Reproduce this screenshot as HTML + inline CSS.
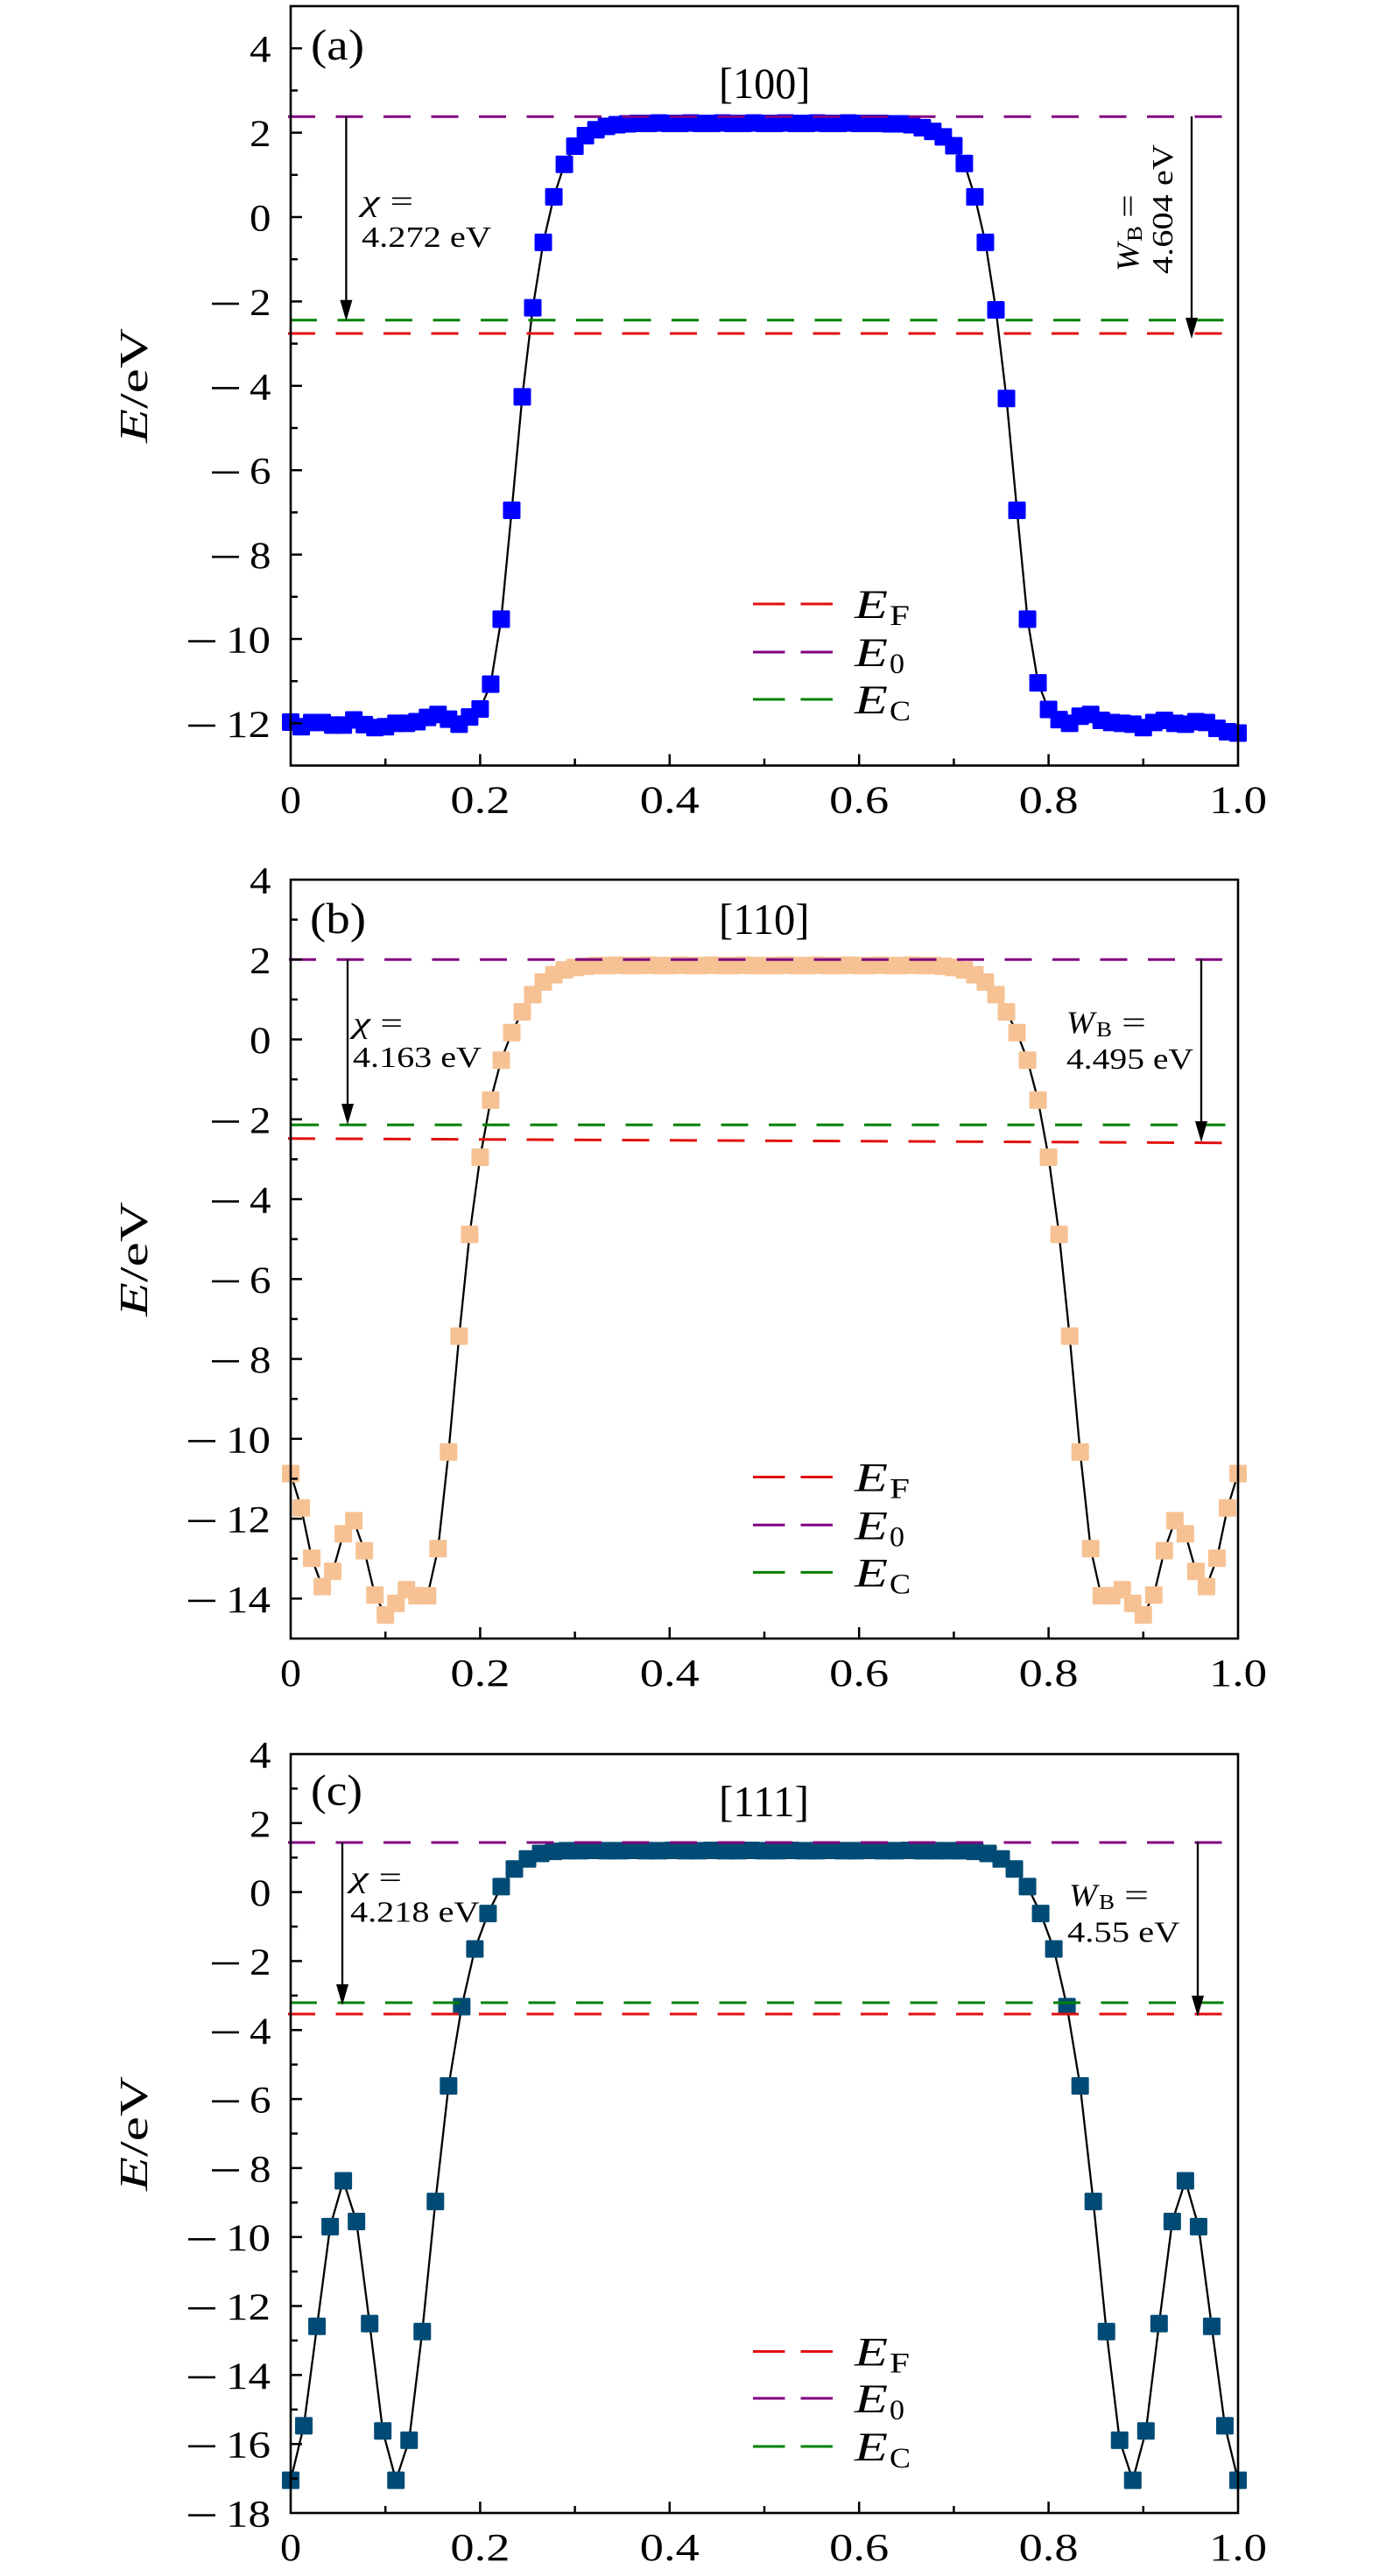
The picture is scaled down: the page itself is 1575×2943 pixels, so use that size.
<!DOCTYPE html>
<html><head><meta charset="utf-8"><style>
html,body{margin:0;padding:0;background:#fff;}
svg{display:block;}
text{font-family:"Liberation Serif",serif;fill:#000;}
</style></head><body>
<svg width="1575" height="2943" viewBox="0 0 1575 2943" xmlns="http://www.w3.org/2000/svg">
<defs>
<marker id="ma" markerUnits="userSpaceOnUse" markerWidth="4" markerHeight="4" refX="0" refY="0" overflow="visible"><rect x="-0.8318" y="-0.2075" width="1.6636" height="0.4149" rx="0.125" ry="0.031" fill="#0000ff"/></marker>
<marker id="mb" markerUnits="userSpaceOnUse" markerWidth="4" markerHeight="4" refX="0" refY="0" overflow="visible"><rect x="-0.8318" y="-0.21916" width="1.6636" height="0.43831" rx="0.125" ry="0.033" fill="#f6c294"/></marker>
<marker id="mc" markerUnits="userSpaceOnUse" markerWidth="4" markerHeight="4" refX="0" refY="0" overflow="visible"><rect x="-0.66544" y="-0.25375" width="1.33087" height="0.50749" rx="0.1" ry="0.038" fill="#004b75"/></marker>
</defs>

<!-- ================= PANEL A ================= -->
<g>
<g transform="translate(332,248) scale(12.02222,-48.2)">
<polyline fill="none" stroke="#000" stroke-width="2.3" vector-effect="non-scaling-stroke" points="0,-11.97 1,-12.08 2,-11.98 3,-11.98 4,-12.04 5,-12.04 6,-11.92 7,-12.03 8,-12.1 9,-12.08 10,-12 11,-12 12,-11.96 13,-11.86 14,-11.79 15,-11.9 16,-12.02 17,-11.85 18,-11.66 19,-11.07 20,-9.53 21,-6.95 22,-4.26 23,-2.15 24,-0.6 25,0.48 26,1.25 27,1.68 28,1.93 29,2.07 30,2.15 31,2.19 32,2.21 33,2.22 34,2.22 35,2.23 36,2.22 37,2.22 38,2.23 39,2.22 40,2.22 41,2.23 42,2.22 43,2.22 44,2.23 45,2.22 46,2.22 47,2.23 48,2.22 49,2.22 50,2.23 51,2.22 52,2.22 53,2.23 54,2.22 55,2.22 56,2.22 57,2.21 58,2.21 59,2.19 60,2.12 61,2.03 62,1.9 63,1.69 64,1.27 65,0.48 66,-0.6 67,-2.2 68,-4.3 69,-6.95 70,-9.53 71,-11.04 72,-11.67 73,-11.91 74,-12 75,-11.83 76,-11.79 77,-11.93 78,-11.98 79,-12 80,-12.02 81,-12.1 82,-11.98 83,-11.93 84,-12 85,-12.02 86,-11.96 87,-11.98 88,-12.12 89,-12.2 90,-12.23"/>
<polyline fill="none" stroke="none" marker-start="url(#ma)" marker-mid="url(#ma)" marker-end="url(#ma)" points="0,-11.97 1,-12.08 2,-11.98 3,-11.98 4,-12.04 5,-12.04 6,-11.92 7,-12.03 8,-12.1 9,-12.08 10,-12 11,-12 12,-11.96 13,-11.86 14,-11.79 15,-11.9 16,-12.02 17,-11.85 18,-11.66 19,-11.07 20,-9.53 21,-6.95 22,-4.26 23,-2.15 24,-0.6 25,0.48 26,1.25 27,1.68 28,1.93 29,2.07 30,2.15 31,2.19 32,2.21 33,2.22 34,2.22 35,2.23 36,2.22 37,2.22 38,2.23 39,2.22 40,2.22 41,2.23 42,2.22 43,2.22 44,2.23 45,2.22 46,2.22 47,2.23 48,2.22 49,2.22 50,2.23 51,2.22 52,2.22 53,2.23 54,2.22 55,2.22 56,2.22 57,2.21 58,2.21 59,2.19 60,2.12 61,2.03 62,1.9 63,1.69 64,1.27 65,0.48 66,-0.6 67,-2.2 68,-4.3 69,-6.95 70,-9.53 71,-11.04 72,-11.67 73,-11.91 74,-12 75,-11.83 76,-11.79 77,-11.93 78,-11.98 79,-12 80,-12.02 81,-12.1 82,-11.98 83,-11.93 84,-12 85,-12.02 86,-11.96 87,-11.98 88,-12.12 89,-12.2 90,-12.23"/>
</g>
<!-- dashed level lines -->
<g stroke-width="3" stroke-dasharray="31 23.5" fill="none">
<line x1="329" y1="133.3" x2="1396" y2="133.3" stroke="#800080"/>
<line x1="331" y1="365.7" x2="1400" y2="365.7" stroke="#008000"/>
<line x1="329" y1="381" x2="1396" y2="381" stroke="#e01010"/>
</g>
<!-- frame -->
<rect x="332" y="7" width="1082" height="867.6" fill="none" stroke="#000" stroke-width="2.6"/>
<!-- y ticks -->
<g stroke="#000" stroke-width="2.5">
<line x1="332" y1="55.2" x2="345" y2="55.2"/><line x1="332" y1="151.6" x2="345" y2="151.6"/><line x1="332" y1="248" x2="345" y2="248"/><line x1="332" y1="344.4" x2="345" y2="344.4"/><line x1="332" y1="440.8" x2="345" y2="440.8"/><line x1="332" y1="537.2" x2="345" y2="537.2"/><line x1="332" y1="633.6" x2="345" y2="633.6"/><line x1="332" y1="730" x2="345" y2="730"/><line x1="332" y1="826.4" x2="345" y2="826.4"/>
<line x1="332" y1="103.4" x2="340" y2="103.4"/><line x1="332" y1="199.8" x2="340" y2="199.8"/><line x1="332" y1="296.2" x2="340" y2="296.2"/><line x1="332" y1="392.6" x2="340" y2="392.6"/><line x1="332" y1="489" x2="340" y2="489"/><line x1="332" y1="585.4" x2="340" y2="585.4"/><line x1="332" y1="681.8" x2="340" y2="681.8"/><line x1="332" y1="778.2" x2="340" y2="778.2"/>
<line x1="548.4" y1="874.6" x2="548.4" y2="861.6"/><line x1="764.8" y1="874.6" x2="764.8" y2="861.6"/><line x1="981.2" y1="874.6" x2="981.2" y2="861.6"/><line x1="1197.6" y1="874.6" x2="1197.6" y2="861.6"/>
<line x1="440.2" y1="874.6" x2="440.2" y2="866.6"/><line x1="656.6" y1="874.6" x2="656.6" y2="866.6"/><line x1="873" y1="874.6" x2="873" y2="866.6"/><line x1="1089.4" y1="874.6" x2="1089.4" y2="866.6"/><line x1="1305.8" y1="874.6" x2="1305.8" y2="866.6"/>
</g>
<!-- y tick labels -->
<g font-size="43">
<text x="285" y="70.7" textLength="24.5" lengthAdjust="spacingAndGlyphs">4</text>
<text x="285" y="167.1" textLength="24.5" lengthAdjust="spacingAndGlyphs">2</text>
<text x="285" y="263.5" textLength="24.5" lengthAdjust="spacingAndGlyphs">0</text>
<text x="285" y="359.9" textLength="24.5" lengthAdjust="spacingAndGlyphs">2</text>
<text x="285" y="456.3" textLength="24.5" lengthAdjust="spacingAndGlyphs">4</text>
<text x="285" y="552.7" textLength="24.5" lengthAdjust="spacingAndGlyphs">6</text>
<text x="285" y="649.1" textLength="24.5" lengthAdjust="spacingAndGlyphs">8</text>
<text x="258" y="745.5" textLength="51" lengthAdjust="spacingAndGlyphs">10</text>
<text x="258" y="841.9" textLength="51" lengthAdjust="spacingAndGlyphs">12</text>
</g>
<g fill="#000">
<rect x="242" y="345.7" width="31" height="2.6"/>
<rect x="242" y="442.1" width="31" height="2.6"/>
<rect x="242" y="538.5" width="31" height="2.6"/>
<rect x="242" y="634.9" width="31" height="2.6"/>
<rect x="215" y="731.3" width="31" height="2.6"/>
<rect x="215" y="827.7" width="31" height="2.6"/>
</g>
<!-- x tick labels -->
<g font-size="44">
<text x="320" y="928.6" textLength="24" lengthAdjust="spacingAndGlyphs">0</text>
<text x="514.4" y="928.6" textLength="68" lengthAdjust="spacingAndGlyphs">0.2</text>
<text x="730.8" y="928.6" textLength="68" lengthAdjust="spacingAndGlyphs">0.4</text>
<text x="947.2" y="928.6" textLength="68" lengthAdjust="spacingAndGlyphs">0.6</text>
<text x="1163.6" y="928.6" textLength="68" lengthAdjust="spacingAndGlyphs">0.8</text>
<text x="1381" y="928.6" textLength="66" lengthAdjust="spacingAndGlyphs">1.0</text>
</g>
<!-- axis label -->
<text transform="translate(168,440.5) rotate(-90)" x="-65.5" y="0" font-size="45" textLength="131" lengthAdjust="spacingAndGlyphs"><tspan font-style="italic">E</tspan>/eV</text>
<!-- panel label & direction -->
<text x="355" y="68" font-size="50" textLength="61" lengthAdjust="spacingAndGlyphs">(a)</text>
<text x="821" y="112" font-size="50" textLength="104.5" lengthAdjust="spacingAndGlyphs">[100]</text>
<!-- chi annotation -->
<line x1="395.4" y1="133" x2="395.4" y2="347" stroke="#000" stroke-width="2.3"/>
<polygon points="395.4,366.7 388.4,342.7 402.4,342.7" fill="#000"/>
<text x="413" y="241" font-size="34" textLength="59" lengthAdjust="spacingAndGlyphs"><tspan font-style="italic">χ</tspan> =</text>
<text x="413" y="282" font-size="34" textLength="148" lengthAdjust="spacingAndGlyphs">4.272 eV</text>
<!-- W_B annotation (rotated) -->
<line x1="1361" y1="133" x2="1361" y2="367" stroke="#000" stroke-width="2.3"/>
<polygon points="1361,387 1354,363 1368,363" fill="#000"/>
<g transform="translate(1300,310) rotate(-90)">
<text x="0" y="0" font-size="36" font-style="italic" textLength="32" lengthAdjust="spacingAndGlyphs">W</text>
<text x="34" y="4" font-size="24" textLength="18" lengthAdjust="spacingAndGlyphs">B</text>
<text x="61" y="0" font-size="36" textLength="27" lengthAdjust="spacingAndGlyphs">=</text>
</g>
<text transform="translate(1339,313) rotate(-90)" x="0" y="0" font-size="34" textLength="148" lengthAdjust="spacingAndGlyphs">4.604 eV</text>
<!-- legend -->
<g stroke-width="3" stroke-dasharray="36.5 18" fill="none">
<line x1="860" y1="690" x2="951" y2="690" stroke="#e01010"/>
<line x1="860" y1="745" x2="951" y2="745" stroke="#800080"/>
<line x1="860" y1="799" x2="951" y2="799" stroke="#008000"/>
</g>
<g>
<text x="976" y="706" font-size="47" font-style="italic" textLength="38" lengthAdjust="spacingAndGlyphs">E</text>
<text x="1016" y="714" font-size="33" textLength="23" lengthAdjust="spacingAndGlyphs">F</text>
<text x="976" y="761" font-size="47" font-style="italic" textLength="38" lengthAdjust="spacingAndGlyphs">E</text>
<text x="1016" y="769" font-size="33" textLength="17" lengthAdjust="spacingAndGlyphs">0</text>
<text x="976" y="815" font-size="47" font-style="italic" textLength="38" lengthAdjust="spacingAndGlyphs">E</text>
<text x="1016" y="823" font-size="33" textLength="24" lengthAdjust="spacingAndGlyphs">C</text>
</g>
</g>

<!-- ================= PANEL B ================= -->
<g>
<g transform="translate(332,1187.52) scale(12.02222,-45.63)">
<polyline fill="none" stroke="#000" stroke-width="2.3" vector-effect="non-scaling-stroke" points="0,-10.87 1,-11.73 2,-12.99 3,-13.7 4,-13.32 5,-12.38 6,-12.05 7,-12.8 8,-13.91 9,-14.41 10,-14.12 11,-13.78 12,-13.93 13,-13.93 14,-12.75 15,-10.33 16,-7.43 17,-4.88 18,-2.95 19,-1.52 20,-0.52 21,0.17 22,0.69 23,1.12 24,1.44 25,1.62 26,1.74 27,1.8 28,1.83 29,1.85 30,1.85 31,1.86 32,1.85 33,1.85 34,1.86 35,1.85 36,1.85 37,1.86 38,1.85 39,1.85 40,1.86 41,1.85 42,1.85 43,1.86 44,1.85 45,1.85 46,1.85 47,1.86 48,1.85 49,1.85 50,1.86 51,1.85 52,1.85 53,1.86 54,1.85 55,1.85 56,1.86 57,1.85 58,1.85 59,1.86 60,1.85 61,1.85 62,1.83 63,1.8 64,1.74 65,1.62 66,1.44 67,1.12 68,0.69 69,0.17 70,-0.52 71,-1.52 72,-2.95 73,-4.88 74,-7.43 75,-10.33 76,-12.75 77,-13.93 78,-13.93 79,-13.78 80,-14.12 81,-14.41 82,-13.91 83,-12.8 84,-12.05 85,-12.38 86,-13.32 87,-13.7 88,-12.99 89,-11.73 90,-10.87"/>
<polyline fill="none" stroke="none" marker-start="url(#mb)" marker-mid="url(#mb)" marker-end="url(#mb)" points="0,-10.87 1,-11.73 2,-12.99 3,-13.7 4,-13.32 5,-12.38 6,-12.05 7,-12.8 8,-13.91 9,-14.41 10,-14.12 11,-13.78 12,-13.93 13,-13.93 14,-12.75 15,-10.33 16,-7.43 17,-4.88 18,-2.95 19,-1.52 20,-0.52 21,0.17 22,0.69 23,1.12 24,1.44 25,1.62 26,1.74 27,1.8 28,1.83 29,1.85 30,1.85 31,1.86 32,1.85 33,1.85 34,1.86 35,1.85 36,1.85 37,1.86 38,1.85 39,1.85 40,1.86 41,1.85 42,1.85 43,1.86 44,1.85 45,1.85 46,1.85 47,1.86 48,1.85 49,1.85 50,1.86 51,1.85 52,1.85 53,1.86 54,1.85 55,1.85 56,1.86 57,1.85 58,1.85 59,1.86 60,1.85 61,1.85 62,1.83 63,1.8 64,1.74 65,1.62 66,1.44 67,1.12 68,0.69 69,0.17 70,-0.52 71,-1.52 72,-2.95 73,-4.88 74,-7.43 75,-10.33 76,-12.75 77,-13.93 78,-13.93 79,-13.78 80,-14.12 81,-14.41 82,-13.91 83,-12.8 84,-12.05 85,-12.38 86,-13.32 87,-13.7 88,-12.99 89,-11.73 90,-10.87"/>
</g>
<g stroke-width="3" stroke-dasharray="31 23.5" fill="none">
<line x1="330" y1="1096.3" x2="1396" y2="1096.3" stroke="#800080"/>
<line x1="333" y1="1285.1" x2="1400" y2="1285.1" stroke="#008000"/>
<line x1="329" y1="1300.7" x2="1396" y2="1305.7" stroke="#e01010"/>
</g>
<rect x="332" y="1005" width="1082" height="867" fill="none" stroke="#000" stroke-width="2.6"/>
<g stroke="#000" stroke-width="2.5">
<line x1="332" y1="1096.26" x2="345" y2="1096.26"/><line x1="332" y1="1187.52" x2="345" y2="1187.52"/><line x1="332" y1="1278.78" x2="345" y2="1278.78"/><line x1="332" y1="1370.04" x2="345" y2="1370.04"/><line x1="332" y1="1461.3" x2="345" y2="1461.3"/><line x1="332" y1="1552.56" x2="345" y2="1552.56"/><line x1="332" y1="1643.82" x2="345" y2="1643.82"/><line x1="332" y1="1735.08" x2="345" y2="1735.08"/><line x1="332" y1="1826.34" x2="345" y2="1826.34"/>
<line x1="332" y1="1050.63" x2="340" y2="1050.63"/><line x1="332" y1="1141.89" x2="340" y2="1141.89"/><line x1="332" y1="1233.15" x2="340" y2="1233.15"/><line x1="332" y1="1324.41" x2="340" y2="1324.41"/><line x1="332" y1="1415.67" x2="340" y2="1415.67"/><line x1="332" y1="1506.93" x2="340" y2="1506.93"/><line x1="332" y1="1598.19" x2="340" y2="1598.19"/><line x1="332" y1="1689.45" x2="340" y2="1689.45"/><line x1="332" y1="1780.71" x2="340" y2="1780.71"/>
<line x1="548.4" y1="1872" x2="548.4" y2="1859"/><line x1="764.8" y1="1872" x2="764.8" y2="1859"/><line x1="981.2" y1="1872" x2="981.2" y2="1859"/><line x1="1197.6" y1="1872" x2="1197.6" y2="1859"/>
<line x1="440.2" y1="1872" x2="440.2" y2="1864"/><line x1="656.6" y1="1872" x2="656.6" y2="1864"/><line x1="873" y1="1872" x2="873" y2="1864"/><line x1="1089.4" y1="1872" x2="1089.4" y2="1864"/><line x1="1305.8" y1="1872" x2="1305.8" y2="1864"/>
</g>
<g font-size="43">
<text x="285" y="1020.5" textLength="24.5" lengthAdjust="spacingAndGlyphs">4</text>
<text x="285" y="1111.8" textLength="24.5" lengthAdjust="spacingAndGlyphs">2</text>
<text x="285" y="1203" textLength="24.5" lengthAdjust="spacingAndGlyphs">0</text>
<text x="285" y="1294.3" textLength="24.5" lengthAdjust="spacingAndGlyphs">2</text>
<text x="285" y="1385.5" textLength="24.5" lengthAdjust="spacingAndGlyphs">4</text>
<text x="285" y="1476.8" textLength="24.5" lengthAdjust="spacingAndGlyphs">6</text>
<text x="285" y="1568.1" textLength="24.5" lengthAdjust="spacingAndGlyphs">8</text>
<text x="258" y="1659.3" textLength="51" lengthAdjust="spacingAndGlyphs">10</text>
<text x="258" y="1750.6" textLength="51" lengthAdjust="spacingAndGlyphs">12</text>
<text x="258" y="1841.8" textLength="51" lengthAdjust="spacingAndGlyphs">14</text>
</g>
<g fill="#000">
<rect x="242" y="1280.1" width="31" height="2.6"/>
<rect x="242" y="1371.3" width="31" height="2.6"/>
<rect x="242" y="1462.6" width="31" height="2.6"/>
<rect x="242" y="1553.9" width="31" height="2.6"/>
<rect x="215" y="1645.1" width="31" height="2.6"/>
<rect x="215" y="1736.4" width="31" height="2.6"/>
<rect x="215" y="1827.6" width="31" height="2.6"/>
</g>
<g font-size="44">
<text x="320" y="1926" textLength="24" lengthAdjust="spacingAndGlyphs">0</text>
<text x="514.4" y="1926" textLength="68" lengthAdjust="spacingAndGlyphs">0.2</text>
<text x="730.8" y="1926" textLength="68" lengthAdjust="spacingAndGlyphs">0.4</text>
<text x="947.2" y="1926" textLength="68" lengthAdjust="spacingAndGlyphs">0.6</text>
<text x="1163.6" y="1926" textLength="68" lengthAdjust="spacingAndGlyphs">0.8</text>
<text x="1381" y="1926" textLength="66" lengthAdjust="spacingAndGlyphs">1.0</text>
</g>
<text transform="translate(168,1438.5) rotate(-90)" x="-65.5" y="0" font-size="45" textLength="131" lengthAdjust="spacingAndGlyphs"><tspan font-style="italic">E</tspan>/eV</text>
<text x="354" y="1066" font-size="50" textLength="64" lengthAdjust="spacingAndGlyphs">(b)</text>
<text x="821" y="1067" font-size="50" textLength="103.5" lengthAdjust="spacingAndGlyphs">[110]</text>
<line x1="397" y1="1096" x2="397" y2="1265" stroke="#000" stroke-width="2.3"/>
<polygon points="397,1285 390,1261 404,1261" fill="#000"/>
<text x="403" y="1180" font-size="34" textLength="57" lengthAdjust="spacingAndGlyphs"><tspan font-style="italic">χ</tspan> =</text>
<text x="403" y="1219" font-size="34" textLength="147" lengthAdjust="spacingAndGlyphs">4.163 eV</text>
<line x1="1372" y1="1096" x2="1372" y2="1285" stroke="#000" stroke-width="2.3"/>
<polygon points="1372,1305 1365,1281 1379,1281" fill="#000"/>
<text x="1218" y="1180" font-size="36" font-style="italic" textLength="32" lengthAdjust="spacingAndGlyphs">W</text>
<text x="1252" y="1184" font-size="24" textLength="18" lengthAdjust="spacingAndGlyphs">B</text>
<text x="1281" y="1180" font-size="36" textLength="28" lengthAdjust="spacingAndGlyphs">=</text>
<text x="1218" y="1221" font-size="34" textLength="145" lengthAdjust="spacingAndGlyphs">4.495 eV</text>
<g stroke-width="3" stroke-dasharray="36.5 18" fill="none">
<line x1="860" y1="1687.5" x2="951" y2="1687.5" stroke="#e01010"/>
<line x1="860" y1="1742.3" x2="951" y2="1742.3" stroke="#800080"/>
<line x1="860" y1="1796.4" x2="951" y2="1796.4" stroke="#008000"/>
</g>
<g>
<text x="976" y="1703.5" font-size="47" font-style="italic" textLength="38" lengthAdjust="spacingAndGlyphs">E</text>
<text x="1016" y="1711.5" font-size="33" textLength="23" lengthAdjust="spacingAndGlyphs">F</text>
<text x="976" y="1758.3" font-size="47" font-style="italic" textLength="38" lengthAdjust="spacingAndGlyphs">E</text>
<text x="1016" y="1766.3" font-size="33" textLength="17" lengthAdjust="spacingAndGlyphs">0</text>
<text x="976" y="1812.4" font-size="47" font-style="italic" textLength="38" lengthAdjust="spacingAndGlyphs">E</text>
<text x="1016" y="1820.4" font-size="33" textLength="24" lengthAdjust="spacingAndGlyphs">C</text>
</g>
</g>

<!-- ================= PANEL C ================= -->
<g>
<g transform="translate(332,2161.64) scale(15.02778,-39.41)">
<polyline fill="none" stroke="#000" stroke-width="2.3" vector-effect="non-scaling-stroke" points="0,-17.05 1,-15.47 2,-12.59 3,-9.7 4,-8.37 5,-9.55 6,-12.51 7,-15.62 8,-17.05 9,-15.89 10,-12.74 11,-8.97 12,-5.62 13,-3.32 14,-1.65 15,-0.62 16,0.16 17,0.67 18,0.96 19,1.12 20,1.18 21,1.2 22,1.2 23,1.21 24,1.2 25,1.2 26,1.21 27,1.2 28,1.2 29,1.21 30,1.2 31,1.2 32,1.21 33,1.2 34,1.2 35,1.21 36,1.2 37,1.2 38,1.21 39,1.2 40,1.2 41,1.21 42,1.2 43,1.2 44,1.21 45,1.2 46,1.2 47,1.21 48,1.2 49,1.2 50,1.2 51,1.2 52,1.18 53,1.12 54,0.96 55,0.67 56,0.16 57,-0.62 58,-1.65 59,-3.32 60,-5.62 61,-8.97 62,-12.74 63,-15.89 64,-17.05 65,-15.62 66,-12.51 67,-9.55 68,-8.37 69,-9.7 70,-12.59 71,-15.47 72,-17.05"/>
<polyline fill="none" stroke="none" marker-start="url(#mc)" marker-mid="url(#mc)" marker-end="url(#mc)" points="0,-17.05 1,-15.47 2,-12.59 3,-9.7 4,-8.37 5,-9.55 6,-12.51 7,-15.62 8,-17.05 9,-15.89 10,-12.74 11,-8.97 12,-5.62 13,-3.32 14,-1.65 15,-0.62 16,0.16 17,0.67 18,0.96 19,1.12 20,1.18 21,1.2 22,1.2 23,1.21 24,1.2 25,1.2 26,1.21 27,1.2 28,1.2 29,1.21 30,1.2 31,1.2 32,1.21 33,1.2 34,1.2 35,1.21 36,1.2 37,1.2 38,1.21 39,1.2 40,1.2 41,1.21 42,1.2 43,1.2 44,1.21 45,1.2 46,1.2 47,1.21 48,1.2 49,1.2 50,1.2 51,1.2 52,1.18 53,1.12 54,0.96 55,0.67 56,0.16 57,-0.62 58,-1.65 59,-3.32 60,-5.62 61,-8.97 62,-12.74 63,-15.89 64,-17.05 65,-15.62 66,-12.51 67,-9.55 68,-8.37 69,-9.7 70,-12.59 71,-15.47 72,-17.05"/>
</g>
<g stroke-width="3" stroke-dasharray="31 23.5" fill="none">
<line x1="329" y1="2105" x2="1396" y2="2105" stroke="#800080"/>
<line x1="331" y1="2288" x2="1398" y2="2288" stroke="#008000"/>
<line x1="329" y1="2301" x2="1396" y2="2301" stroke="#e01010"/>
</g>
<rect x="332" y="2004" width="1082" height="867" fill="none" stroke="#000" stroke-width="2.6"/>
<g stroke="#000" stroke-width="2.5">
<line x1="332" y1="2082.82" x2="345" y2="2082.82"/><line x1="332" y1="2161.64" x2="345" y2="2161.64"/><line x1="332" y1="2240.46" x2="345" y2="2240.46"/><line x1="332" y1="2319.28" x2="345" y2="2319.28"/><line x1="332" y1="2398.1" x2="345" y2="2398.1"/><line x1="332" y1="2476.92" x2="345" y2="2476.92"/><line x1="332" y1="2555.74" x2="345" y2="2555.74"/><line x1="332" y1="2634.56" x2="345" y2="2634.56"/><line x1="332" y1="2713.38" x2="345" y2="2713.38"/><line x1="332" y1="2792.2" x2="345" y2="2792.2"/>
<line x1="332" y1="2043.41" x2="340" y2="2043.41"/><line x1="332" y1="2122.23" x2="340" y2="2122.23"/><line x1="332" y1="2201.05" x2="340" y2="2201.05"/><line x1="332" y1="2279.87" x2="340" y2="2279.87"/><line x1="332" y1="2358.69" x2="340" y2="2358.69"/><line x1="332" y1="2437.51" x2="340" y2="2437.51"/><line x1="332" y1="2516.33" x2="340" y2="2516.33"/><line x1="332" y1="2595.15" x2="340" y2="2595.15"/><line x1="332" y1="2673.97" x2="340" y2="2673.97"/><line x1="332" y1="2752.79" x2="340" y2="2752.79"/><line x1="332" y1="2831.61" x2="340" y2="2831.61"/>
<line x1="548.4" y1="2871" x2="548.4" y2="2858"/><line x1="764.8" y1="2871" x2="764.8" y2="2858"/><line x1="981.2" y1="2871" x2="981.2" y2="2858"/><line x1="1197.6" y1="2871" x2="1197.6" y2="2858"/>
<line x1="440.2" y1="2871" x2="440.2" y2="2863"/><line x1="656.6" y1="2871" x2="656.6" y2="2863"/><line x1="873" y1="2871" x2="873" y2="2863"/><line x1="1089.4" y1="2871" x2="1089.4" y2="2863"/><line x1="1305.8" y1="2871" x2="1305.8" y2="2863"/>
</g>
<g font-size="43">
<text x="285" y="2019.5" textLength="24.5" lengthAdjust="spacingAndGlyphs">4</text>
<text x="285" y="2098.3" textLength="24.5" lengthAdjust="spacingAndGlyphs">2</text>
<text x="285" y="2177.1" textLength="24.5" lengthAdjust="spacingAndGlyphs">0</text>
<text x="285" y="2256" textLength="24.5" lengthAdjust="spacingAndGlyphs">2</text>
<text x="285" y="2334.8" textLength="24.5" lengthAdjust="spacingAndGlyphs">4</text>
<text x="285" y="2413.6" textLength="24.5" lengthAdjust="spacingAndGlyphs">6</text>
<text x="285" y="2492.4" textLength="24.5" lengthAdjust="spacingAndGlyphs">8</text>
<text x="258" y="2571.2" textLength="51" lengthAdjust="spacingAndGlyphs">10</text>
<text x="258" y="2650.1" textLength="51" lengthAdjust="spacingAndGlyphs">12</text>
<text x="258" y="2728.9" textLength="51" lengthAdjust="spacingAndGlyphs">14</text>
<text x="258" y="2807.7" textLength="51" lengthAdjust="spacingAndGlyphs">16</text>
<text x="258" y="2886.5" textLength="51" lengthAdjust="spacingAndGlyphs">18</text>
</g>
<g fill="#000">
<rect x="242" y="2241.8" width="31" height="2.6"/>
<rect x="242" y="2320.6" width="31" height="2.6"/>
<rect x="242" y="2399.4" width="31" height="2.6"/>
<rect x="242" y="2478.2" width="31" height="2.6"/>
<rect x="215" y="2557" width="31" height="2.6"/>
<rect x="215" y="2635.9" width="31" height="2.6"/>
<rect x="215" y="2714.7" width="31" height="2.6"/>
<rect x="215" y="2793.5" width="31" height="2.6"/>
<rect x="215" y="2872.3" width="31" height="2.6"/>
</g>
<g font-size="44">
<text x="320" y="2925" textLength="24" lengthAdjust="spacingAndGlyphs">0</text>
<text x="514.4" y="2925" textLength="68" lengthAdjust="spacingAndGlyphs">0.2</text>
<text x="730.8" y="2925" textLength="68" lengthAdjust="spacingAndGlyphs">0.4</text>
<text x="947.2" y="2925" textLength="68" lengthAdjust="spacingAndGlyphs">0.6</text>
<text x="1163.6" y="2925" textLength="68" lengthAdjust="spacingAndGlyphs">0.8</text>
<text x="1381" y="2925" textLength="66" lengthAdjust="spacingAndGlyphs">1.0</text>
</g>
<text transform="translate(168,2437.5) rotate(-90)" x="-65.5" y="0" font-size="45" textLength="131" lengthAdjust="spacingAndGlyphs"><tspan font-style="italic">E</tspan>/eV</text>
<text x="355" y="2062" font-size="50" textLength="59" lengthAdjust="spacingAndGlyphs">(c)</text>
<text x="821" y="2075" font-size="50" textLength="103" lengthAdjust="spacingAndGlyphs">[111]</text>
<line x1="391" y1="2105" x2="391" y2="2271" stroke="#000" stroke-width="2.3"/>
<polygon points="391,2291 384,2267 398,2267" fill="#000"/>
<text x="400" y="2156" font-size="34" textLength="59" lengthAdjust="spacingAndGlyphs"><tspan font-style="italic">χ</tspan> =</text>
<text x="400" y="2195.5" font-size="34" textLength="147.5" lengthAdjust="spacingAndGlyphs">4.218 eV</text>
<line x1="1368" y1="2104" x2="1368" y2="2284" stroke="#000" stroke-width="2.3"/>
<polygon points="1368,2304 1361,2280 1375,2280" fill="#000"/>
<text x="1221" y="2177" font-size="36" font-style="italic" textLength="32" lengthAdjust="spacingAndGlyphs">W</text>
<text x="1255" y="2181" font-size="24" textLength="18" lengthAdjust="spacingAndGlyphs">B</text>
<text x="1284" y="2177" font-size="36" textLength="28" lengthAdjust="spacingAndGlyphs">=</text>
<text x="1219" y="2218.5" font-size="34" textLength="128.5" lengthAdjust="spacingAndGlyphs">4.55 eV</text>
<g stroke-width="3" stroke-dasharray="36.5 18" fill="none">
<line x1="860" y1="2686.5" x2="951" y2="2686.5" stroke="#e01010"/>
<line x1="860" y1="2740" x2="951" y2="2740" stroke="#800080"/>
<line x1="860" y1="2795" x2="951" y2="2795" stroke="#008000"/>
</g>
<g>
<text x="976" y="2702.5" font-size="47" font-style="italic" textLength="38" lengthAdjust="spacingAndGlyphs">E</text>
<text x="1016" y="2710.5" font-size="33" textLength="23" lengthAdjust="spacingAndGlyphs">F</text>
<text x="976" y="2756" font-size="47" font-style="italic" textLength="38" lengthAdjust="spacingAndGlyphs">E</text>
<text x="1016" y="2764" font-size="33" textLength="17" lengthAdjust="spacingAndGlyphs">0</text>
<text x="976" y="2811" font-size="47" font-style="italic" textLength="38" lengthAdjust="spacingAndGlyphs">E</text>
<text x="1016" y="2819" font-size="33" textLength="24" lengthAdjust="spacingAndGlyphs">C</text>
</g>
</g>
</svg>
</body></html>
